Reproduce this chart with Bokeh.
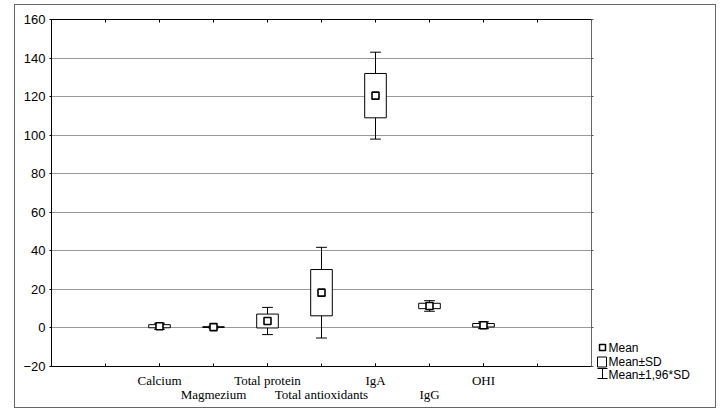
from bokeh.plotting import figure
from bokeh.models import Range1d, FixedTicker, LinearAxis, Grid, ColumnDataSource
from bokeh.layouts import row, column
from bokeh.core.properties import value
from bokeh.embed import file_html
from bokeh.resources import INLINE

# ---- data ----
categories = ["Calcium", "Magmezium", "Total protein", "Total antioxidants", "IgA", "IgG", "OHI"]
means = [0.9, 0.45, 3.6, 18.3, 120.5, 11.4, 1.4]
sds = [0.8, 0.2, 3.6, 12.0, 11.5, 1.4, 0.9]
y_ticks = [-20, 0, 20, 40, 60, 80, 100, 120, 140, 160]
legend_labels = ["Mean", "Mean\u00b1SD", "Mean\u00b11,96*SD"]

xs = list(range(1, len(categories) + 1))
k = 1.96
src = ColumnDataSource(dict(
    x=xs,
    mean=means,
    box_top=[m + s for m, s in zip(means, sds)],
    box_bot=[m - s for m, s in zip(means, sds)],
    w_top=[m + k * s for m, s in zip(means, sds)],
    w_bot=[m - k * s for m, s in zip(means, sds)],
    left=[x - 0.2 for x in xs],
    right=[x + 0.2 for x in xs],
    cl=[x - 0.1 for x in xs],
    cr=[x + 0.1 for x in xs],
))

W_MAIN, H = 580, 402
W_LEG = 120

p = figure(width=W_MAIN, height=H, x_range=Range1d(-1, len(categories) + 2),
           y_range=Range1d(-20, 160), x_axis_type=None, y_axis_type=None,
           output_backend="svg", toolbar_location=None,
           min_border_left=36, min_border_right=4, min_border_top=14, min_border_bottom=41)
p.outline_line_color = "black"
p.outline_line_width = 1
p.background_fill_color = "white"
p.border_fill_color = "white"

sans = "Liberation Sans"
serif = "Liberation Serif"

# left axis
yl = LinearAxis(ticker=FixedTicker(ticks=y_ticks))
yl.major_tick_in = 0
yl.major_tick_out = 2
yl.minor_tick_line_color = None
yl.major_label_text_font = sans
yl.major_label_text_font_size = "13px"
yl.major_label_text_color = "black"
yl.major_label_standoff = 4
yl.axis_line_color = "black"
yl.major_tick_line_color = "black"
p.add_layout(yl, "left")

# right axis: small outside ticks only
yr = LinearAxis(ticker=FixedTicker(ticks=[], minor_ticks=y_ticks))
yr.minor_tick_in = 0
yr.minor_tick_out = 2
yr.minor_tick_line_color = "#555555"
yr.axis_line_color = "#666666"
yr.major_label_standoff = 0
p.add_layout(yr, "right")

cat_ticks = list(range(0, len(categories) + 2))
odd = [x for x in xs if x % 2 == 1]
even = [x for x in xs if x % 2 == 0]

# bottom axis row 1 (labels of odd categories, inside ticks at every slot)
xb = LinearAxis(ticker=FixedTicker(ticks=odd, minor_ticks=cat_ticks))
xb.major_tick_in = 3
xb.major_tick_out = 0
xb.minor_tick_in = 3
xb.minor_tick_out = 0
xb.major_tick_line_color = "black"
xb.minor_tick_line_color = "black"
xb.major_label_overrides = {t: categories[t - 1] for t in odd}
xb.major_label_text_font = serif
xb.major_label_text_font_size = "13px"
xb.major_label_text_color = "black"
xb.major_label_standoff = 6
xb.axis_line_color = "black"
p.add_layout(xb, "below")

# bottom axis row 2 (labels of even categories)
xb2 = LinearAxis(ticker=FixedTicker(ticks=even))
xb2.major_tick_in = 0
xb2.major_tick_out = 0
xb2.minor_tick_line_color = None
xb2.major_tick_line_color = None
xb2.axis_line_color = None
xb2.major_label_overrides = {t: categories[t - 1] for t in even}
xb2.major_label_text_font = serif
xb2.major_label_text_font_size = "13px"
xb2.major_label_text_color = "black"
xb2.major_label_standoff = -4
p.add_layout(xb2, "below")

# top axis: inside ticks only
xt = LinearAxis(ticker=FixedTicker(ticks=[], minor_ticks=cat_ticks))
xt.minor_tick_in = 3
xt.minor_tick_out = 0
xt.minor_tick_line_color = "black"
xt.axis_line_color = "black"
xt.major_label_standoff = 0
p.add_layout(xt, "above")

grid = Grid(dimension=1, ticker=FixedTicker(ticks=[t for t in y_ticks if -20 < t < 160]))
grid.grid_line_color = "#333333"
grid.grid_line_dash = "1 1"
grid.grid_line_width = 1
p.add_layout(grid)

# whisker stems and caps
p.segment(x0="x", y0="box_top", x1="x", y1="w_top", source=src, line_color="black", line_width=1)
p.segment(x0="x", y0="box_bot", x1="x", y1="w_bot", source=src, line_color="black", line_width=1)
p.segment(x0="cl", y0="w_top", x1="cr", y1="w_top", source=src, line_color="black", line_width=1)
p.segment(x0="cl", y0="w_bot", x1="cr", y1="w_bot", source=src, line_color="black", line_width=1)
# SD boxes
p.quad(left="left", right="right", top="box_top", bottom="box_bot", source=src,
       fill_color="white", line_color="black", line_width=1)
# means
p.scatter(x="x", y="mean", source=src, marker="square", size=7, fill_color="white",
          line_color="black", line_width=1.6)

# ---- legend panel ----
lg = figure(width=W_LEG, height=H, x_range=Range1d(0, W_LEG), y_range=Range1d(0, H),
            x_axis_type=None, y_axis_type=None, output_backend="svg", toolbar_location=None,
            min_border=0, min_border_left=0, min_border_right=0, min_border_top=0, min_border_bottom=0)
lg.outline_line_color = None
lg.background_fill_color = "white"
lg.border_fill_color = "white"

ix = 7
def fy(v):
    return H - v

lg.scatter(x=[ix], y=[fy(342)], marker="square", size=6, fill_color="white", line_color="black", line_width=1.5)
lg.quad(left=[ix - 5], right=[ix + 4], top=[fy(351.5)], bottom=[fy(361.5)], fill_color="white", line_color="black", line_width=1)
lg.segment(x0=[ix, ix - 5, ix - 5], y0=[fy(363), fy(363), fy(373)], x1=[ix, ix + 5, ix + 5], y1=[fy(373), fy(363), fy(373)],
           line_color="black", line_width=1)
lg.text(x=[ix + 6] * 3, y=[fy(342), fy(356), fy(369.5)], text=legend_labels, text_baseline="middle",
        text_align="left", text_font=value(sans), text_font_size="12px", text_color="black")

layout = row(p, column(lg), styles={"border": "1px solid #666666", "margin-left": "14px", "margin-top": "4px"})

open("out.html", "w").write(file_html(layout, INLINE))
